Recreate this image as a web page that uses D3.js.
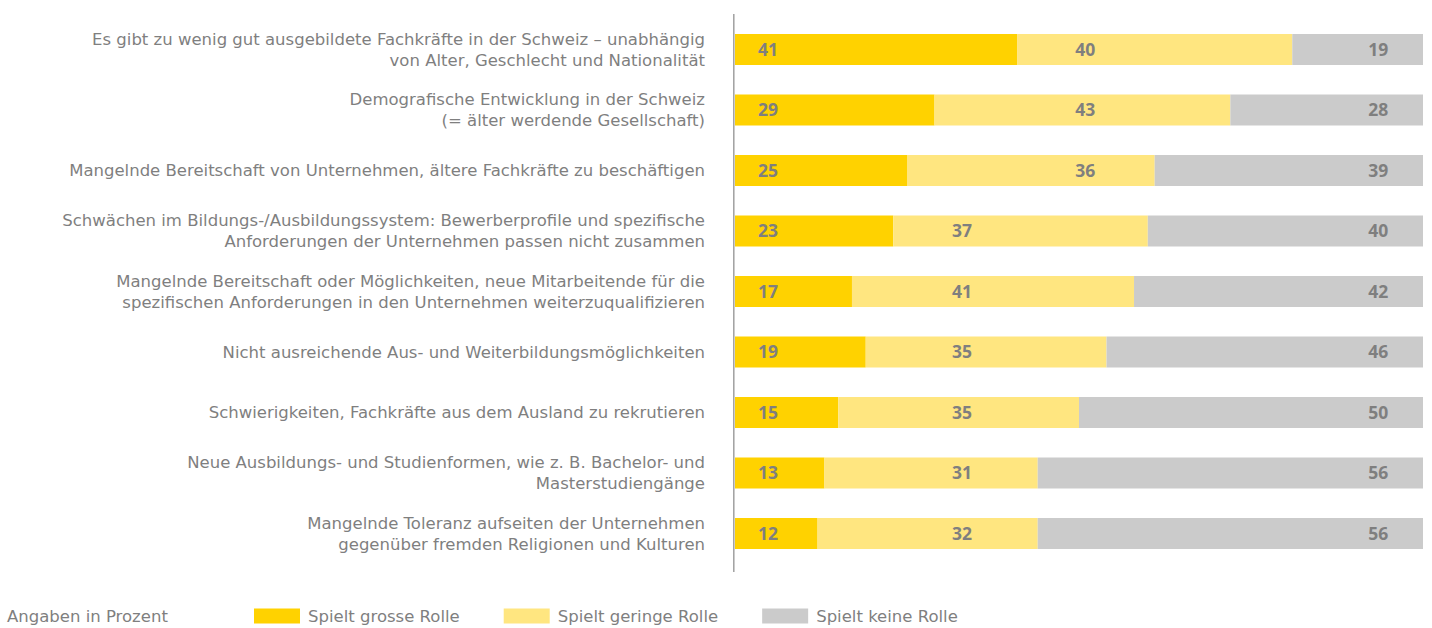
<!DOCTYPE html>
<html>
<head>
<meta charset="utf-8">
<script src="https://cdn.jsdelivr.net/npm/d3@7"></script>
<style>
  body { margin: 0; background: #fff; }
  svg { display: block; }
  text { font-family: "DejaVu Sans", sans-serif; fill: #7f7f7f; }
  .val { font-family: "Open Sans", sans-serif; }
</style>
</head>
<body>
<div id="chart"></div>
<script>
// categories (each entry = lines of the wrapped label)
var categories = [
    ["Es gibt zu wenig gut ausgebildete Fachkräfte in der Schweiz – unabhängig", "von Alter, Geschlecht und Nationalität"],
    ["Demografische Entwicklung in der Schweiz", "(= älter werdende Gesellschaft)"],
    ["Mangelnde Bereitschaft von Unternehmen, ältere Fachkräfte zu beschäftigen"],
    ["Schwächen im Bildungs-/Ausbildungssystem: Bewerberprofile und spezifische", "Anforderungen der Unternehmen passen nicht zusammen"],
    ["Mangelnde Bereitschaft oder Möglichkeiten, neue Mitarbeitende für die", "spezifischen Anforderungen in den Unternehmen weiterzuqualifizieren"],
    ["Nicht ausreichende Aus- und Weiterbildungsmöglichkeiten"],
    ["Schwierigkeiten, Fachkräfte aus dem Ausland zu rekrutieren"],
    ["Neue Ausbildungs- und Studienformen, wie z. B. Bachelor- und", "Masterstudiengänge"],
    ["Mangelnde Toleranz aufseiten der Unternehmen", "gegenüber fremden Religionen und Kulturen"]
];

var grosse  = [41, 29, 25, 23, 17, 19, 15, 13, 12];
var geringe = [40, 43, 36, 37, 41, 35, 35, 31, 32];
var keine   = [19, 28, 39, 40, 42, 46, 50, 56, 56];

var seriesNames = ["Spielt grosse Rolle", "Spielt geringe Rolle", "Spielt keine Rolle"];
var seriesColors = ["#ffd200", "#ffe680", "#cbcbcb"];
var note = "Angaben in Prozent";

// where the value labels sit, in % of the value axis (as in the original layout)
var labelAtFirst = 4.8;
var labelAtMid = [50.9, 50.9, 50.9, 33, 33, 33, 33, 33, 33];
var labelAtLast = 93.5;

var width = 1432, height = 628;
var left = 735, right = 1423;
var fs = 16.5;

var svg = d3.select("#chart").append("svg")
    .attr("width", width)
    .attr("height", height);

var rows = categories.map(function(c, i) {
    return { i: i, lines: c, vals: [grosse[i], geringe[i], keine[i]] };
});

var x = d3.scaleLinear().domain([0, 100]).range([left, right]);

var y = d3.scaleBand()
    .domain(d3.range(categories.length))
    .range([19.25, 563.75])
    .paddingInner(0.4876)
    .paddingOuter(0.2438);

var stack = d3.stack().keys([0, 1, 2]).value(function(d, k) { return d.vals[k]; });
var stacked = stack(rows);

var layers = svg.append("g").selectAll("g")
    .data(stacked)
    .join("g")
    .attr("fill", function(d, k) { return seriesColors[k]; });

layers.selectAll("rect")
    .data(function(d) { return d; })
    .join("rect")
    .attr("x", function(d) { return x(d[0]); })
    .attr("y", function(d) { return y(d.data.i); })
    .attr("width", function(d) { return x(d[1]) - x(d[0]); })
    .attr("height", y.bandwidth());

// value labels
var labels = svg.append("g")
    .attr("class", "val")
    .attr("font-size", 17.5)
    .attr("font-weight", "bold")
    .attr("text-anchor", "middle");

rows.forEach(function(r) {
    var cy = y(r.i) + y.bandwidth() / 2;
    var pos = [labelAtFirst, labelAtMid[r.i], labelAtLast];
    r.vals.forEach(function(v, k) {
        labels.append("text")
            .attr("class", "val")
            .attr("x", x(pos[k]))
            .attr("y", cy)
            .attr("dy", "0.36em")
            .text(v);
    });
});

// axis line
svg.append("line")
    .attr("x1", left - 1.2).attr("x2", left - 1.2)
    .attr("y1", 14).attr("y2", 572)
    .attr("stroke", "#a0a0a0")
    .attr("stroke-width", 1.5);

// category labels
var cat = svg.append("g")
    .attr("font-size", fs)
    .attr("text-anchor", "end");

rows.forEach(function(r) {
    var cy = y(r.i) + y.bandwidth() / 2;
    var lh = 21;
    var t = cat.append("text").attr("x", 705);
    r.lines.forEach(function(line, j) {
        t.append("tspan")
            .attr("x", 705)
            .attr("y", cy + (j - (r.lines.length - 1) / 2) * lh)
            .attr("dy", "0.36em")
            .text(line);
    });
});

// legend
var legY = 616;
svg.append("text")
    .attr("x", 7)
    .attr("y", legY)
    .attr("dy", "0.36em")
    .attr("font-size", fs)
    .text(note);

var lx = 254;
seriesNames.forEach(function(name, k) {
    svg.append("rect")
        .attr("x", lx).attr("y", legY - 7.5)
        .attr("width", 46).attr("height", 15)
        .attr("fill", seriesColors[k]);
    var t = svg.append("text")
        .attr("x", lx + 54)
        .attr("y", legY)
        .attr("dy", "0.36em")
        .attr("font-size", fs)
        .text(name);
    lx += 54 + t.node().getComputedTextLength() + 44;
});
</script>
</body>
</html>
